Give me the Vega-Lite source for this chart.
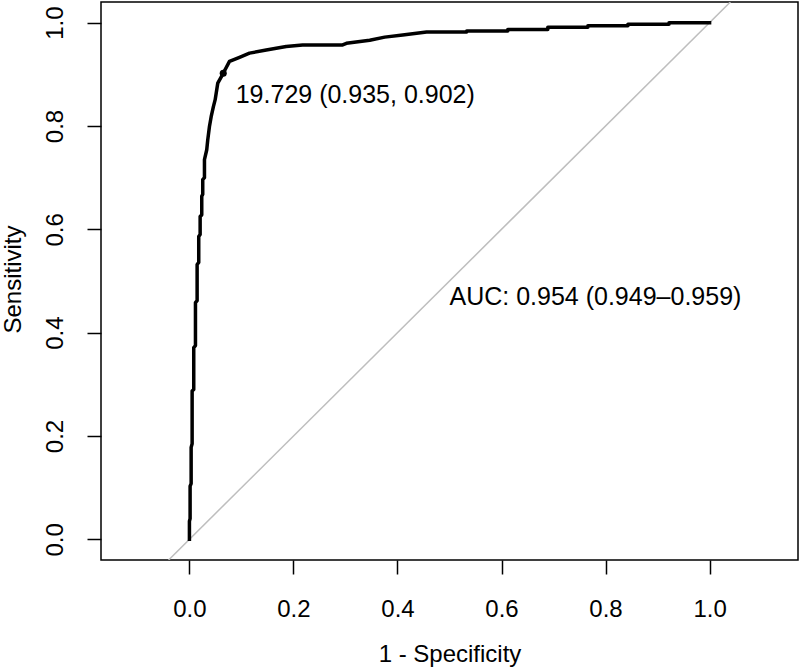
{
  "$schema": "https://vega.github.io/schema/vega-lite/v6.json",
  "autosize": "none",
  "width": 697,
  "height": 558,
  "padding": {"left": 101, "top": 2, "right": 2, "bottom": 107},
  "background": "white",
  "config": {
    "view": {"stroke": "black", "strokeWidth": 1.5},
    "font": "Liberation Sans",
    "axis": {
      "grid": false,
      "domain": false,
      "tickColor": "black",
      "tickWidth": 1.5,
      "tickSize": 14,
      "labelFont": "Liberation Sans",
      "labelFontSize": 24,
      "labelColor": "black",
      "titleFont": "Liberation Sans",
      "titleFontSize": 24,
      "titleFontWeight": "normal",
      "titleColor": "black"
    }
  },
  "datasets": {
    "diag": [
      {"fpr": -0.04, "tpr": -0.04},
      {"fpr": 1.04, "tpr": 1.04}
    ],
    "roc": [
      {"i": 0, "fpr": 0, "tpr": 0},
      {"i": 1, "fpr": 0, "tpr": 0.035},
      {"i": 2, "fpr": 0.0013, "tpr": 0.04},
      {"i": 3, "fpr": 0.0013, "tpr": 0.103},
      {"i": 4, "fpr": 0.0033, "tpr": 0.108},
      {"i": 5, "fpr": 0.0033, "tpr": 0.178},
      {"i": 6, "fpr": 0.0052, "tpr": 0.185},
      {"i": 7, "fpr": 0.0052, "tpr": 0.287},
      {"i": 8, "fpr": 0.0083, "tpr": 0.29},
      {"i": 9, "fpr": 0.0083, "tpr": 0.371},
      {"i": 10, "fpr": 0.0116, "tpr": 0.375},
      {"i": 11, "fpr": 0.0116, "tpr": 0.458},
      {"i": 12, "fpr": 0.0148, "tpr": 0.462},
      {"i": 13, "fpr": 0.0148, "tpr": 0.532},
      {"i": 14, "fpr": 0.0179, "tpr": 0.536},
      {"i": 15, "fpr": 0.0179, "tpr": 0.586},
      {"i": 16, "fpr": 0.0206, "tpr": 0.59},
      {"i": 17, "fpr": 0.0206, "tpr": 0.625},
      {"i": 18, "fpr": 0.0237, "tpr": 0.628},
      {"i": 19, "fpr": 0.0237, "tpr": 0.664},
      {"i": 20, "fpr": 0.0256, "tpr": 0.668},
      {"i": 21, "fpr": 0.0256, "tpr": 0.696},
      {"i": 22, "fpr": 0.0289, "tpr": 0.7},
      {"i": 23, "fpr": 0.0289, "tpr": 0.735},
      {"i": 24, "fpr": 0.0333, "tpr": 0.754},
      {"i": 25, "fpr": 0.0352, "tpr": 0.773},
      {"i": 26, "fpr": 0.0385, "tpr": 0.799},
      {"i": 27, "fpr": 0.0418, "tpr": 0.818},
      {"i": 28, "fpr": 0.0462, "tpr": 0.838},
      {"i": 29, "fpr": 0.0495, "tpr": 0.851},
      {"i": 30, "fpr": 0.0545, "tpr": 0.883},
      {"i": 31, "fpr": 0.065, "tpr": 0.902},
      {"i": 32, "fpr": 0.077, "tpr": 0.925},
      {"i": 33, "fpr": 0.0963, "tpr": 0.933},
      {"i": 34, "fpr": 0.1155, "tpr": 0.941},
      {"i": 35, "fpr": 0.1477, "tpr": 0.947},
      {"i": 36, "fpr": 0.186, "tpr": 0.954},
      {"i": 37, "fpr": 0.2176, "tpr": 0.957},
      {"i": 38, "fpr": 0.2946, "tpr": 0.957},
      {"i": 39, "fpr": 0.3018, "tpr": 0.96},
      {"i": 40, "fpr": 0.3466, "tpr": 0.966},
      {"i": 41, "fpr": 0.3755, "tpr": 0.972},
      {"i": 42, "fpr": 0.41, "tpr": 0.976},
      {"i": 43, "fpr": 0.456, "tpr": 0.982},
      {"i": 44, "fpr": 0.533, "tpr": 0.982},
      {"i": 45, "fpr": 0.533, "tpr": 0.984},
      {"i": 46, "fpr": 0.612, "tpr": 0.984},
      {"i": 47, "fpr": 0.612, "tpr": 0.987},
      {"i": 48, "fpr": 0.689, "tpr": 0.987},
      {"i": 49, "fpr": 0.689, "tpr": 0.991},
      {"i": 50, "fpr": 0.766, "tpr": 0.991},
      {"i": 51, "fpr": 0.766, "tpr": 0.994},
      {"i": 52, "fpr": 0.843, "tpr": 0.994},
      {"i": 53, "fpr": 0.843, "tpr": 0.997},
      {"i": 54, "fpr": 0.922, "tpr": 0.997},
      {"i": 55, "fpr": 0.922, "tpr": 1.0},
      {"i": 56, "fpr": 1.0, "tpr": 1.0}
    ],
    "thres": [
      {"fpr": 0.065, "tpr": 0.902, "label": "19.729 (0.935, 0.902)", "lx": 0.089, "ly": 0.86}
    ],
    "auc": [
      {"label": "AUC: 0.954 (0.949–0.959)", "lx": 0.5, "ly": 0.47}
    ]
  },
  "layer": [
    {
      "data": {"name": "diag"},
      "mark": {"type": "line", "color": "#BEBEBE", "strokeWidth": 1.5, "clip": true},
      "encoding": {
        "x": {
          "field": "fpr", "type": "quantitative",
          "scale": {"domain": [-0.17, 1.17], "nice": false, "zero": false},
          "axis": {
            "values": [0, 0.2, 0.4, 0.6, 0.8, 1.0],
            "format": ".1f",
            "title": "1 - Specificity",
            "labelBaseline": "alphabetic",
            "labelPadding": 42,
            "labelFlush": false,
            "titleX": 348.5,
            "titleY": 101,
            "titleBaseline": "alphabetic",
            "titleAlign": "center"
          }
        },
        "y": {
          "field": "tpr", "type": "quantitative",
          "scale": {"domain": [-0.04, 1.04], "nice": false, "zero": false},
          "axis": {
            "values": [0, 0.2, 0.4, 0.6, 0.8, 1.0],
            "format": ".1f",
            "title": "Sensitivity",
            "labelAngle": -90,
            "labelAlign": "center",
            "labelBaseline": "alphabetic",
            "labelPadding": 25,
            "labelFlush": false,
            "titleX": -80.5,
            "titleY": 277,
            "titleAngle": -90,
            "titleBaseline": "alphabetic",
            "titleAlign": "center"
          }
        }
      }
    },
    {
      "data": {"name": "roc"},
      "mark": {"type": "line", "color": "black", "strokeWidth": 3.5, "strokeJoin": "round", "strokeCap": "square"},
      "encoding": {
        "x": {"field": "fpr", "type": "quantitative"},
        "y": {"field": "tpr", "type": "quantitative"},
        "order": {"field": "i", "type": "quantitative"}
      }
    },
    {
      "data": {"name": "thres"},
      "mark": {"type": "point", "filled": true, "color": "black", "size": 50, "opacity": 1},
      "encoding": {
        "x": {"field": "fpr", "type": "quantitative"},
        "y": {"field": "tpr", "type": "quantitative"}
      }
    },
    {
      "data": {"name": "thres"},
      "mark": {"type": "text", "align": "left", "baseline": "middle", "fontSize": 25, "font": "Liberation Sans", "color": "black"},
      "encoding": {
        "x": {"field": "lx", "type": "quantitative"},
        "y": {"field": "ly", "type": "quantitative"},
        "text": {"field": "label"}
      }
    },
    {
      "data": {"name": "auc"},
      "mark": {"type": "text", "align": "left", "baseline": "middle", "fontSize": 25, "font": "Liberation Sans", "color": "black"},
      "encoding": {
        "x": {"field": "lx", "type": "quantitative"},
        "y": {"field": "ly", "type": "quantitative"},
        "text": {"field": "label"}
      }
    }
  ]
}
